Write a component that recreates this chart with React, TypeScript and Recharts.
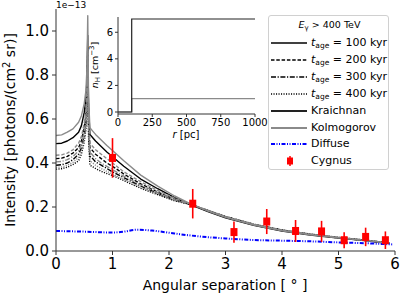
import React from "react";
import {
  ComposedChart,
  LineChart,
  Line,
  Scatter,
  ErrorBar,
  XAxis,
  YAxis,
  Legend,
} from "recharts";

// Angular separation grid (degrees) for the model curves
const angle = [0, 0.1, 0.2, 0.3, 0.4, 0.45, 0.5, 0.53, 0.548, 0.562, 0.576, 0.6, 0.65, 0.7, 0.8, 0.9, 1.0, 1.2, 1.5, 1.8, 2.1, 2.4, 2.7, 3.0, 3.5, 4.0, 4.5, 5.0, 5.5, 5.9];

// Model intensities, units of 1e-13 photons/(cm^2 sr)
const kol100 = [0.525, 0.528, 0.54, 0.555, 0.585, 0.615, 0.67, 0.73, 0.83, 1.07, 0.7, 0.56, 0.545, 0.53, 0.505, 0.48, 0.457, 0.41, 0.345, 0.295, 0.25, 0.212, 0.18, 0.153, 0.118, 0.092, 0.074, 0.06, 0.047, 0.035];
const kra100 = [0.488, 0.49, 0.5, 0.515, 0.54, 0.57, 0.63, 0.69, 0.78, 0.98, 0.66, 0.53, 0.515, 0.5, 0.475, 0.45, 0.428, 0.385, 0.327, 0.283, 0.243, 0.209, 0.178, 0.151, 0.117, 0.091, 0.073, 0.059, 0.046, 0.034];
const kol200 = [0.435, 0.437, 0.445, 0.46, 0.49, 0.52, 0.58, 0.64, 0.74, 0.95, 0.62, 0.49, 0.475, 0.46, 0.44, 0.42, 0.4, 0.36, 0.315, 0.275, 0.24, 0.212, 0.182, 0.155, 0.12, 0.094, 0.075, 0.061, 0.048, 0.036];
const kra200 = [0.42, 0.422, 0.43, 0.445, 0.47, 0.5, 0.56, 0.62, 0.72, 0.92, 0.6, 0.47, 0.455, 0.44, 0.42, 0.4, 0.385, 0.35, 0.305, 0.268, 0.235, 0.21, 0.181, 0.154, 0.119, 0.093, 0.075, 0.06, 0.047, 0.035];
const kol300 = [0.405, 0.407, 0.415, 0.43, 0.455, 0.485, 0.54, 0.6, 0.7, 0.9, 0.58, 0.45, 0.435, 0.42, 0.4, 0.385, 0.37, 0.34, 0.3, 0.265, 0.233, 0.211, 0.183, 0.156, 0.121, 0.095, 0.076, 0.061, 0.048, 0.036];
const kra300 = [0.39, 0.392, 0.4, 0.415, 0.44, 0.47, 0.525, 0.585, 0.68, 0.88, 0.56, 0.43, 0.42, 0.405, 0.39, 0.375, 0.36, 0.333, 0.295, 0.262, 0.231, 0.21, 0.183, 0.156, 0.121, 0.095, 0.076, 0.061, 0.048, 0.036];
const kol400 = [0.38, 0.382, 0.39, 0.403, 0.425, 0.455, 0.51, 0.57, 0.66, 0.86, 0.54, 0.41, 0.4, 0.39, 0.375, 0.362, 0.35, 0.326, 0.29, 0.259, 0.23, 0.211, 0.184, 0.157, 0.122, 0.096, 0.077, 0.062, 0.049, 0.037];
const kra400 = [0.372, 0.374, 0.381, 0.393, 0.41, 0.44, 0.495, 0.555, 0.64, 0.84, 0.52, 0.39, 0.383, 0.375, 0.362, 0.352, 0.343, 0.32, 0.285, 0.256, 0.228, 0.21, 0.184, 0.157, 0.122, 0.096, 0.077, 0.062, 0.049, 0.037];

// Diffuse background
const diffuseAngle = [0, 0.5, 1.0, 1.2, 1.43, 1.7, 2.0, 2.3, 2.55, 3.0, 3.5, 4.0, 4.5, 5.0, 5.5, 5.95];
const diffuseValue = [0.091, 0.088, 0.084, 0.088, 0.097, 0.093, 0.083, 0.073, 0.066, 0.057, 0.05, 0.047, 0.044, 0.039, 0.035, 0.03];

// Cygnus measurements
const cygAngle = [1.0, 2.42, 3.15, 3.73, 4.24, 4.7, 5.1, 5.48, 5.83];
const cygValue = [0.423, 0.215, 0.086, 0.134, 0.091, 0.089, 0.049, 0.064, 0.049];
const cygError = [0.09, 0.067, 0.048, 0.057, 0.05, 0.048, 0.036, 0.042, 0.04];

// Gas density profile (inset)
const radius = [0, 100, 100, 1000];
const densKra = [0, 0, 7, 7];
const densKol = [0, 0, 1, 1];

const xTicks = [0, 1, 2, 3, 4, 5, 6];
const yTicks = [0, 0.2, 0.4, 0.6, 0.8, 1.0];
const insetXTicks = [0, 250, 500, 750, 1000];
const insetYTicks = [0, 2, 4, 6];

const rows = angle.map((x, i) => ({
  x,
  kol100: kol100[i],
  kra100: kra100[i],
  kol200: kol200[i],
  kra200: kra200[i],
  kol300: kol300[i],
  kra300: kra300[i],
  kol400: kol400[i],
  kra400: kra400[i],
}));
const diffuseRows = diffuseAngle.map((x, i) => ({ x, diffuse: diffuseValue[i] }));
const cygRows = cygAngle.map((x, i) => ({ x, y: cygValue[i], err: cygError[i] }));
const densRows = radius.map((r, i) => ({ r, kra: densKra[i], kol: densKol[i] }));

const FONT = "DejaVu Sans";
const FRAME = "#333";
const KRA = "#000";
const KOL = "#8a8a8a";

const DASH = { s: undefined, d: "3.5 1.8", dd: "5 1.6 1.2 1.6", dt: "1.1 1.4" } as const;

// Black curves first, grey (Kolmogorov) on top so the tall grey cusp stays visible
const series = [
  { key: "kra100", color: KRA, dash: DASH.s },
  { key: "kra200", color: KRA, dash: DASH.d },
  { key: "kra300", color: KRA, dash: DASH.dd },
  { key: "kra400", color: KRA, dash: DASH.dt },
  { key: "kol100", color: KOL, dash: DASH.s },
  { key: "kol200", color: KOL, dash: DASH.d },
  { key: "kol300", color: KOL, dash: DASH.dd },
  { key: "kol400", color: KOL, dash: DASH.dt },
];

const CygMarker = (p: any) => (
  <rect x={p.cx - 3.5} y={p.cy - 4} width={7} height={8} fill="#ff0000" />
);

const Age = ({ v }: { v: string }) => (
  <span>
    <i>t</i>
    <sub style={{ fontSize: 7.5, verticalAlign: "-2px" }}>age</sub>
    {" = " + v + " kyr"}
  </span>
);

const legendRows: { label: React.ReactNode; color: string; dash?: string; width: number; kind?: string }[] = [
  { label: <Age v="100" />, color: "#000", width: 1.4 },
  { label: <Age v="200" />, color: "#000", dash: DASH.d, width: 1.4 },
  { label: <Age v="300" />, color: "#000", dash: DASH.dd, width: 1.4 },
  { label: <Age v="400" />, color: "#000", dash: DASH.dt, width: 1.4 },
  { label: "Kraichnan", color: "#222", width: 2 },
  { label: "Kolmogorov", color: KOL, width: 2 },
  { label: "Diffuse", color: "#0000ff", dash: "4 1.5 1 1.5 1 1.5", width: 2 },
  { label: "Cygnus", color: "#ff0000", width: 0, kind: "marker" },
];

const LegendBox = () => (
  <div
    style={{
      position: "absolute",
      left: 268,
      top: 15,
      width: 121,
      height: 155,
      border: "1px solid #d0d0d0",
      borderRadius: 3,
      background: "#fff",
      fontFamily: FONT,
      fontSize: 11,
      color: "#000",
      boxSizing: "border-box",
    }}
  >
    <div style={{ position: "absolute", left: 0, width: 121, top: 3, textAlign: "center", fontSize: 9.5 }}>
      <i>E</i>
      <sub style={{ fontSize: 7, verticalAlign: "-2px" }}>γ</sub>
      {" > 400 TeV"}
    </div>
    {legendRows.map((r, i) => {
      const top = 19 + i * 16.9;
      return (
        <div key={i} style={{ position: "absolute", left: 0, top, height: 16, width: 121 }}>
          <svg width={40} height={16} style={{ position: "absolute", left: 1, top: 0 }}>
            {r.kind === "marker" ? (
              <g>
                <line x1={20} x2={20} y1={3} y2={13} stroke="#ff0000" strokeWidth={1.5} />
                <rect x={17} y={4.5} width={6} height={7} fill="#ff0000" />
              </g>
            ) : (
              <line x1={1} x2={37} y1={8} y2={8} stroke={r.color} strokeWidth={r.width} strokeDasharray={r.dash} />
            )}
          </svg>
          <div style={{ position: "absolute", left: 42, top: 0, lineHeight: "16px", whiteSpace: "nowrap" }}>{r.label}</div>
        </div>
      );
    })}
  </div>
);

export default function App() {
  return (
    <div style={{ position: "fixed", left: 0, top: 0, width: 400, height: 294, background: "#fff", overflow: "hidden" }}>
      <ComposedChart
        width={400}
        height={294}
        data={rows}
        margin={{ top: 9, right: 5, bottom: 12, left: 0 }}
      >
        <XAxis
          xAxisId="b"
          type="number"
          dataKey="x"
          domain={[0, 6]}
          ticks={xTicks}
          allowDataOverflow
          height={31}
          tickSize={4}
          tickMargin={3}
          stroke={FRAME}
          tick={{ fill: "#000", fontSize: 15, fontFamily: FONT }}
        />
        <XAxis xAxisId="t" orientation="top" type="number" domain={[0, 6]} height={0} tick={false} tickLine={false} stroke={FRAME} />
        <YAxis
          yAxisId="l"
          type="number"
          domain={[0, 1.1]}
          ticks={yTicks}
          allowDataOverflow
          width={56}
          tickSize={4}
          tickMargin={3}
          stroke={FRAME}
          tickFormatter={(v: number) => v.toFixed(1)}
          tick={{ fill: "#000", fontSize: 15, fontFamily: FONT }}
        />
        <YAxis yAxisId="r" orientation="right" type="number" domain={[0, 1]} width={0} tick={false} tickLine={false} stroke={FRAME} />
        {series.map((s) => (
          <Line
            key={s.key}
            xAxisId="b"
            yAxisId="l"
            dataKey={s.key}
            type="linear"
            stroke={s.color}
            strokeWidth={1.4}
            strokeDasharray={s.dash}
            strokeLinejoin="round"
            dot={false}
            isAnimationActive={false}
          />
        ))}
        <Line
          xAxisId="b"
          yAxisId="l"
          data={diffuseRows}
          dataKey="diffuse"
          type="monotone"
          stroke="#0000ff"
          strokeWidth={2}
          strokeDasharray="4 1.5 1 1.5 1 1.5"
          dot={false}
          isAnimationActive={false}
        />
        <Scatter
          xAxisId="b"
          yAxisId="l"
          data={cygRows}
          dataKey="y"
          shape={CygMarker}
          isAnimationActive={false}
        >
          <ErrorBar dataKey="err" direction="y" width={0} stroke="#ff0000" strokeWidth={1.6} />
        </Scatter>
        <Legend content={() => <LegendBox />} wrapperStyle={{ position: "absolute", left: 0, top: 0, width: 0, height: 0 }} />
      </ComposedChart>

      {/* axis titles of the main panel */}
      <svg width={400} height={294} style={{ position: "absolute", left: 0, top: 0, pointerEvents: "none" }}>
        <text x={56} y={8} fontFamily={FONT} fontSize={9} fill="#000">1e−13</text>
        <text x={225} y={290} textAnchor="middle" fontFamily={FONT} fontSize={14} fill="#000">
          Angular separation [ ° ]
        </text>
        <text
          transform="translate(15,130) rotate(-90)"
          textAnchor="middle"
          fontFamily={FONT}
          fontSize={14}
          fill="#000"
        >
          Intensity [photons/(cm
          <tspan dy={-5} fontSize={10}>2</tspan>
          <tspan dy={5}> sr)]</tspan>
        </text>
      </svg>

      {/* inset: gas density profile */}
      <div style={{ position: "absolute", left: 118, top: 17, width: 137, height: 97, background: "#fff" }} />
      <div style={{ position: "absolute", left: 90, top: 10 }}>
        <LineChart width={180} height={135} data={densRows} margin={{ top: 7, right: 15, bottom: 0, left: 0 }}>
          <XAxis
            xAxisId="b"
            type="number"
            dataKey="r"
            domain={[0, 1000]}
            ticks={insetXTicks}
            height={31}
            tickSize={3}
            tickMargin={2}
            stroke={FRAME}
            tick={{ fill: "#000", fontSize: 10, fontFamily: FONT }}
          />
          <XAxis xAxisId="t" orientation="top" type="number" domain={[0, 1000]} height={0} tick={false} tickLine={false} stroke={FRAME} />
          <YAxis
            yAxisId="l"
            type="number"
            domain={[-0.15, 7.15]}
            ticks={insetYTicks}
            allowDataOverflow
            width={28}
            tickSize={3}
            tickMargin={2}
            stroke={FRAME}
            tick={{ fill: "#000", fontSize: 10, fontFamily: FONT }}
          />
          <YAxis yAxisId="r" orientation="right" type="number" domain={[0, 1]} width={0} tick={false} tickLine={false} stroke={FRAME} />
          <Line xAxisId="b" yAxisId="l" dataKey="kol" type="linear" stroke={KOL} strokeWidth={1.2} dot={false} isAnimationActive={false} />
          <Line xAxisId="b" yAxisId="l" dataKey="kra" type="linear" stroke="#222" strokeWidth={1.2} dot={false} isAnimationActive={false} />
        </LineChart>
      </div>
      <svg width={400} height={294} style={{ position: "absolute", left: 0, top: 0, pointerEvents: "none" }}>
        <text x={186} y={138} textAnchor="middle" fontFamily={FONT} fontSize={10} fill="#000">
          <tspan fontStyle="italic">r</tspan> [pc]
        </text>
        <text transform="translate(98,65) rotate(-90)" textAnchor="middle" fontFamily={FONT} fontSize={9.5} fill="#000">
          <tspan fontStyle="italic">n</tspan>
          <tspan dy={2} fontSize={7}>H</tspan>
          <tspan dy={-2}> [cm</tspan>
          <tspan dy={-4} fontSize={7}>−3</tspan>
          <tspan dy={4}>]</tspan>
        </text>
      </svg>
    </div>
  );
}
